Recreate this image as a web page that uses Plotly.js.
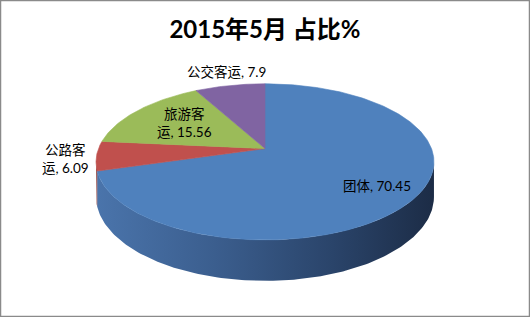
<!DOCTYPE html>
<html>
<head>
<meta charset="utf-8">
<script src="https://cdn.plot.ly/plotly-3.0.1.min.js"></script>
<style>html,body{margin:0;padding:0;background:#fff;}#chart{width:530px;height:317px;}</style>
</head>
<body>
<div id="chart"></div>
<script>
// ---- data ----
const categories = ['团体', '公路客运', '旅游客运', '公交客运'];
const values = [70.45, 6.09, 15.56, 7.9];
const chartTitle = '2015年5月 占比%';

// ---- style ----
const topColors = ['#4F81BD', '#C0504D', '#9BBB59', '#8064A2'];
const sideScales = [
  [[0, '#4a74ab'], [0.35, '#3b5e8e'], [0.7, '#2a446a'], [1, '#1c2c46']],
  [[0, '#9a3f3c'], [1, '#6e2c2a']],
  [[0, '#7a9446'], [1, '#56682f']],
  [[0, '#654f80'], [1, '#45365a']]
];
const labelWrap = {'公路客运': 3, '旅游客运': 3};
const labelPos = [[377, 186], [65.5, 159], [184, 123], [226, 71.5]];

// projection of the tilted disc (pixel-space axes)
const cx = 265, cy = 148.6, A = 166.5, B = 75.8, P = 0.17, DEPTH = 34;
function proj(thetaDeg, depth) {
  const t = thetaDeg * Math.PI / 180;
  const X = Math.sin(t), Y = Math.cos(t);
  const w = 1 + P * Y;
  return [cx + A * X / w, cy + (depth - B * Y) / w];
}
const thR = Math.acos(-P) * 180 / Math.PI;
const thL = 360 - thR;

const total = values.reduce((a, b) => a + b, 0);
const starts = [], ends = [];
let acc = 0;
values.forEach(v => { starts.push(acc / total * 360); acc += v; ends.push(acc / total * 360); });

const traces = [];
// side walls
values.forEach((v, i) => {
  const a0 = Math.max(starts[i], thR), a1 = Math.min(ends[i], thL);
  if (a1 <= a0) return;
  const xs = [], ys = [];
  const n = Math.max(4, Math.ceil((a1 - a0) / 1));
  for (let k = 0; k <= n; k++) { const p = proj(a0 + (a1 - a0) * k / n, 0); xs.push(p[0]); ys.push(p[1]); }
  for (let k = n; k >= 0; k--) { const p = proj(a0 + (a1 - a0) * k / n, DEPTH); xs.push(p[0]); ys.push(p[1]); }
  traces.push({
    type: 'scatter', mode: 'lines', x: xs, y: ys, fill: 'toself',
    fillgradient: {type: 'horizontal', colorscale: sideScales[i]},
    line: {width: 0}, hoverinfo: 'skip', showlegend: false
  });
});
// top faces
values.forEach((v, i) => {
  const a0 = starts[i], a1 = ends[i];
  const xs = [cx], ys = [cy];
  const n = Math.max(4, Math.ceil((a1 - a0) / 1));
  for (let k = 0; k <= n; k++) { const p = proj(a0 + (a1 - a0) * k / n, 0); xs.push(p[0]); ys.push(p[1]); }
  xs.push(cx); ys.push(cy);
  traces.push({
    type: 'scatter', mode: 'lines', x: xs, y: ys, fill: 'toself',
    fillcolor: topColors[i], line: {width: 0.6, color: topColors[i]},
    hoverinfo: 'skip', showlegend: false, name: categories[i]
  });
});

const annotations = categories.map((c, i) => {
  let name = c;
  if (labelWrap[c]) name = c.slice(0, labelWrap[c]) + '<br>' + c.slice(labelWrap[c]);
  return {
    x: labelPos[i][0], y: labelPos[i][1], xref: 'x', yref: 'y',
    text: name + ', ' + values[i], showarrow: false,
    xanchor: 'center', yanchor: 'middle', align: 'center',
    font: {family: "Lato, 'Noto Sans CJK SC', sans-serif", size: 13.5, color: '#000'}
  };
});

const layout = {
  width: 530, height: 317,
  margin: {l: 0, r: 0, t: 0, b: 0},
  paper_bgcolor: '#ffffff', plot_bgcolor: '#ffffff',
  xaxis: {range: [0, 530], visible: false, fixedrange: true},
  yaxis: {range: [317, 0], visible: false, fixedrange: true},
  title: {
    text: '<b>' + chartTitle + '</b>', x: 0.5, xanchor: 'center',
    y: 1 - 30 / 317, yanchor: 'middle', yref: 'paper',
    font: {family: "Lato, 'Noto Sans CJK SC', sans-serif", size: 24, color: '#000'}
  },
  annotations: annotations,
  shapes: [{
    type: 'rect', xref: 'paper', yref: 'paper', x0: 0, y0: 0, x1: 1, y1: 1,
    line: {color: '#8a8a8a', width: 2.5}, fillcolor: 'rgba(0,0,0,0)'
  }],
  showlegend: false
};

Plotly.newPlot('chart', traces, layout, {displayModeBar: false, staticPlot: true});
</script>
</body>
</html>
